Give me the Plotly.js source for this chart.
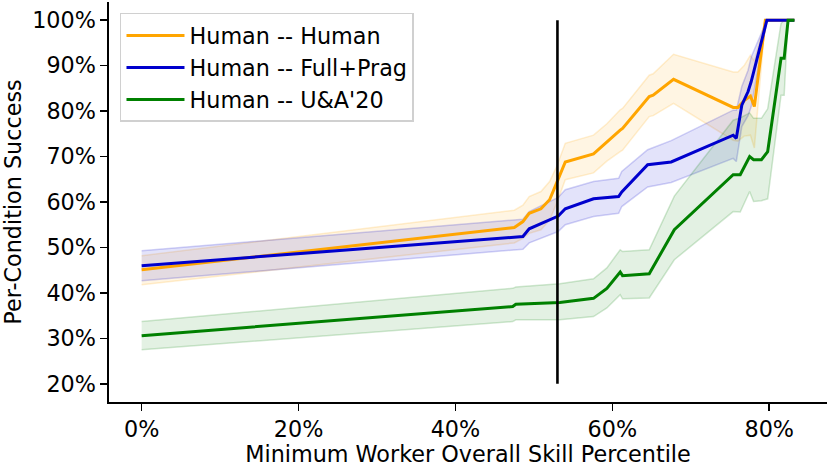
<!DOCTYPE html>
<html>
<head>
<meta charset="utf-8">
<script src="https://cdn.plot.ly/plotly-3.0.1.min.js"></script>
<style>html,body{margin:0;padding:0;background:#fff;}#chart{width:830px;height:467px;}</style>
</head>
<body>
<div id="chart"></div>
<script>
// Human -- Human
const xHuman = [0, 47.5, 48.6, 49.4, 50.9, 52.0, 52.9, 54.0, 57.6, 59.3, 61.0, 61.3, 64.7, 65.2, 67.8, 75.4, 76.0, 76.8, 77.6, 78.1, 79.5, 83.2];
const yHuman = [45.1, 54.4, 55.7, 57.5, 58.5, 60.5, 64.2, 68.8, 70.6, 73.3, 75.8, 76.2, 83.2, 83.5, 87.0, 80.8, 80.8, 82.3, 83.3, 81.0, 100, 100];
const hiHuman = [48.2, 58.2, 59.3, 61.2, 62.3, 64.5, 67.8, 72.9, 74.7, 77.2, 80.3, 80.6, 87.9, 88.2, 92.5, 88.6, 88.6, 90.0, 92.3, 91.0, 100, 100];
const loHuman = [41.8, 51.0, 52.0, 53.1, 53.9, 56.0, 59.7, 64.9, 66.4, 69.0, 71.1, 71.4, 78.8, 79.0, 81.7, 73.6, 73.4, 74.5, 74.7, 71.9, 100, 100];

// Human -- Full+Prag
const xFull = [0, 48.6, 49.4, 53.1, 54.0, 57.6, 60.8, 61.2, 64.5, 67.5, 75.4, 75.8, 76.5, 77.3, 77.7, 79.7, 83.2];
const yFull = [46.0, 52.4, 54.1, 56.9, 58.5, 60.7, 61.2, 62.2, 68.2, 68.8, 74.7, 74.0, 81.3, 84.3, 86.5, 100, 100];
const hiFull = [49.3, 56.2, 57.9, 61.0, 62.7, 64.5, 65.2, 66.7, 71.5, 73.5, 80.2, 80.2, 85.4, 89.0, 91.9, 100, 100];
const loFull = [42.7, 49.6, 51.0, 53.5, 55.0, 56.8, 57.5, 59.0, 63.3, 64.3, 69.6, 68.9, 76.6, 79.0, 81.0, 100, 100];

// Human -- U&A'20
const xUA = [0, 47.3, 47.7, 53.3, 57.6, 59.3, 61.0, 61.3, 64.7, 67.9, 75.4, 76.3, 77.5, 78.0, 79.0, 79.8, 81.5, 81.9, 82.4, 83.2];
const yUA = [30.6, 37.0, 37.5, 37.9, 38.8, 41.0, 44.6, 43.8, 44.2, 53.9, 66.0, 66.0, 70.0, 69.3, 69.3, 71.1, 91.6, 91.6, 100, 100];
const hiUA = [33.7, 41.0, 41.3, 42.0, 43.1, 45.5, 49.5, 49.1, 49.5, 61.3, 78.0, 78.5, 79.6, 78.4, 78.4, 80.5, 99.3, 100, 100, 100];
const loUA = [27.5, 33.7, 34.1, 34.1, 34.8, 36.7, 39.6, 38.7, 38.9, 47.3, 57.9, 57.8, 62.3, 60.1, 60.3, 60.7, 83.5, 83.5, 100, 100];

// threshold marker
const markerX = [53.0, 53.0];
const markerY = [20, 100];

const names = ['Human -- Human', 'Human -- Full+Prag', "Human -- U&A'20"];
const yTicks = [20, 30, 40, 50, 60, 70, 80, 90, 100];
const xTicks = [0, 20, 40, 60, 80];

const series = [
  {x: xHuman, y: yHuman, hi: hiHuman, lo: loHuman, rgb: '255,165,0', name: names[0]},
  {x: xFull, y: yFull, hi: hiFull, lo: loFull, rgb: '0,0,205', name: names[1]},
  {x: xUA, y: yUA, hi: hiUA, lo: loUA, rgb: '0,128,0', name: names[2]}
];

const traces = [];
series.forEach(s => {
  traces.push({x: s.x, y: s.lo, mode: 'lines', line: {color: 'rgba(' + s.rgb + ',0.18)', width: 1.5},
    showlegend: false, hoverinfo: 'skip'});
  traces.push({x: s.x, y: s.hi, mode: 'lines', fill: 'tonexty', fillcolor: 'rgba(' + s.rgb + ',0.11)',
    line: {color: 'rgba(' + s.rgb + ',0.18)', width: 1.5}, showlegend: false, hoverinfo: 'skip'});
});
series.forEach((s, i) => {
  traces.push({x: s.x, y: s.y, mode: 'lines', name: s.name, legendgroup: 'g' + i,
    line: {color: 'rgb(' + s.rgb + ')', width: 3}});
});
traces.push({x: markerX, y: markerY, mode: 'lines', line: {color: 'black', width: 2.6}, showlegend: false});

const font = {family: 'DejaVu Sans', size: 22.3, color: 'black'};
const layout = {
  width: 830, height: 467,
  margin: {l: 109, r: 3, t: 2, b: 65},
  paper_bgcolor: 'white', plot_bgcolor: 'white',
  font: font,
  showlegend: true,
  legend: {x: 0.0153, y: 0.9726, xanchor: 'left', yanchor: 'top', bgcolor: 'rgba(255,255,255,0.8)',
    bordercolor: '#d0d0d0', borderwidth: 1.5, font: font, itemwidth: 58,
    traceorder: 'normal', tracegroupgap: 2},
  xaxis: {range: [-4.16, 87.36], tickvals: xTicks, ticktext: xTicks.map(v => v + '%'),
    showgrid: false, zeroline: false, showline: true, linecolor: 'black', linewidth: 1.6,
    ticks: 'outside', ticklen: 7, tickwidth: 1.6, tickcolor: 'black',
    title: {text: 'Minimum Worker Overall Skill Percentile', font: font, standoff: 8}},
  yaxis: {range: [16, 104], tickvals: yTicks, ticktext: yTicks.map(v => v + '%'),
    showgrid: false, zeroline: false, showline: true, linecolor: 'black', linewidth: 1.6,
    ticks: 'outside', ticklen: 7, tickwidth: 1.6, tickcolor: 'black',
    title: {text: 'Per-Condition Success', font: font, standoff: 12}}
};
Plotly.newPlot('chart', traces, layout, {displayModeBar: false, staticPlot: true});
</script>
</body>
</html>
